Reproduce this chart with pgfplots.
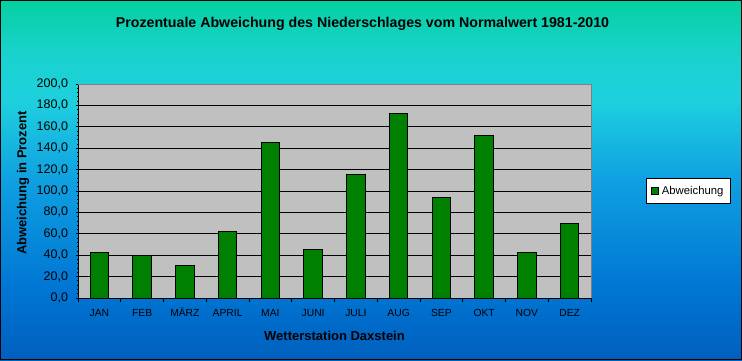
\documentclass[border=0pt]{standalone}
\usepackage{pgfplots}
\pgfplotsset{compat=1.18}
\usepackage{fontspec}
\setmainfont{Liberation Sans}
\definecolor{bargreen}{RGB}{0,128,0}
\definecolor{plotgray}{RGB}{192,192,192}
\definecolor{framegray}{RGB}{128,128,128}
\pgfdeclareverticalshading{bgshade}{100bp}{rgb(0bp)=(0,.372,.745); rgb(25bp)=(0,.372,.745); rgb(35bp)=(0,.463,.831); rgb(50bp)=(.06,.627,.882); rgb(61bp)=(.118,.816,.871); rgb(67.5bp)=(.098,.824,.804); rgb(75bp)=(.02,.816,.627); rgb(100bp)=(.02,.816,.627)}
\begin{document}
\begin{tikzpicture}[x=1pt,y=1pt]
\useasboundingbox (0,0) rectangle (742,360);
\shade[shading=bgshade] (0,0) rectangle (742,360);
\draw[black, line width=1pt] (0.5,0.5) rectangle (741.5,359.5);
\begin{axis}[
  at={(78pt,62pt)}, anchor=south west,
  scale only axis, width=513pt, height=214pt,
  ybar, bar width=18.5pt,
  xmin=-0.5, xmax=11.5, ymin=0, ymax=200,
  enlargelimits=false,
  axis background/.style={fill=plotgray},
  axis lines*=left,
  axis line style={-, black, line width=0.8pt},
  xtick={-0.5,0.5,...,11.5},
  xticklabels={JAN,FEB,MÄRZ,APRIL,MAI,JUNI,JULI,AUG,SEP,OKT,NOV,DEZ,{}},
  xticklabel style={font=\fontsize{10.3}{12}\selectfont, xshift=21.375pt, yshift=-3.5pt, text height=7.5pt, text depth=0pt},
  xtick align=outside,
  ytick={0,20,...,200},
  minor y tick num=4,
  ytick align=center,
  major tick length=4pt, minor tick length=2.5pt,
  tick style={black, line width=0.8pt},
  yticklabel style={font=\fontsize{12.5}{14}\selectfont, xshift=-4.5pt},
  /pgf/number format/.cd, fixed, fixed zerofill, precision=1, use comma, assume math mode=true,
  /pgfplots/.cd,
  ymajorgrids,
  major grid style={black, line width=0.8pt},
  legend style={at={(1.107,0.5)}, anchor=west, draw=black, fill=white, line width=0.8pt,
    font=\fontsize{11.3}{13}\selectfont, inner xsep=4.5pt, inner ysep=5.5pt,
    nodes={inner sep=2pt}},
  legend image code/.code={\draw[#1, line width=0.6pt] (2pt,-3.5pt) rectangle (9pt,3.5pt);},
  after end axis/.code={\draw[framegray, line width=0.8pt] (rel axis cs:0,1) -- (rel axis cs:1,1) -- (rel axis cs:1,0);},
]
\addplot[fill=bargreen, draw=black, line width=0.8pt] coordinates {
  (0,42.8) (1,40.0) (2,30.7) (3,62.3) (4,145.1) (5,45.6)
  (6,115.3) (7,172.1) (8,94.0) (9,151.6) (10,42.8) (11,69.8)
};
\addlegendentry{\hspace{1.5pt}Abweichung}
\end{axis}
\node[anchor=base, font=\bfseries\fontsize{14.2}{16}\selectfont] at (362.5,332.5) {Prozentuale Abweichung des Niederschlages vom Normalwert 1981-2010};
\node[font=\bfseries\fontsize{13}{15}\selectfont] at (334.5,24) {Wetterstation Daxstein};
\node[anchor=base, rotate=90, font=\bfseries\fontsize{13}{15}\selectfont] at (26.5,177) {Abweichung in Prozent};
\end{tikzpicture}
\end{document}
